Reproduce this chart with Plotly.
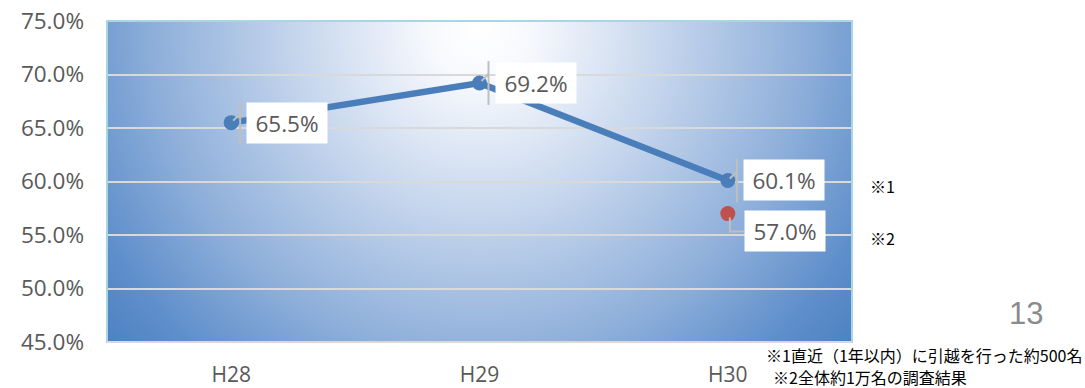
import base64
import plotly.graph_objects as go

# ---- data ----
categories = ["H28", "H29", "H30"]
recent_movers = [65.5, 69.2, 60.1]       # ※1
all_respondents = [None, None, 57.0]     # ※2
y_ticks = [45, 50, 55, 60, 65, 70, 75]
y_tick_labels = [f"{t:.1f}%" for t in y_ticks]
note1 = "※1直近（1年以内）に引越を行った約500名"
note2 = "※2全体約1万名の調査結果"
page_no = "13"

W, H = 1085, 388
ML, MR, MT, MB = 107, 233, 21, 46
PW, PH = W - ML - MR, H - MT - MB


def px(x):
    return (x - ML) / PW


def py(y):
    return 1 - (y - MT) / PH


TXT = "#595959"
BLUE = "#4a7ebb"
RED = "#c0504d"
LEAD = "#bfbfbf"
FS = 22.5

svg = f"""<svg xmlns="http://www.w3.org/2000/svg" width="{PW}" height="{PH}" viewBox="0 0 {PW} {PH}" preserveAspectRatio="none">
<defs><radialGradient id="g" gradientUnits="userSpaceOnUse" cx="{PW*0.5}" cy="10" r="500">
<stop offset="0" stop-color="#ffffff"/>
<stop offset="0.1" stop-color="#f7f9fd"/>
<stop offset="0.35" stop-color="#c9d8ee"/>
<stop offset="0.65" stop-color="#8eafda"/>
<stop offset="0.85" stop-color="#5f8fcb"/>
<stop offset="1" stop-color="#4a7ec0"/>
</radialGradient></defs>
<rect x="0" y="0" width="{PW}" height="{PH}" fill="url(#g)"/>
</svg>"""
src = "data:image/svg+xml;base64," + base64.b64encode(svg.encode()).decode()

fig = go.Figure()
fig.add_trace(go.Scatter(
    x=categories, y=recent_movers, mode="lines+markers",
    line=dict(color=BLUE, width=6.5),
    marker=dict(color=BLUE, size=15),
    hoverinfo="skip", showlegend=False))
fig.add_trace(go.Scatter(
    x=categories, y=all_respondents, mode="markers",
    marker=dict(color=RED, size=15),
    hoverinfo="skip", showlegend=False))

annotations = []
shapes = []
for i, v in enumerate(recent_movers):
    annotations.append(dict(
        x=categories[i], y=v, xref="x", yref="y", text=f"{v:.1f}%",
        showarrow=False, xshift=56, yshift=0, bgcolor="white",
        xanchor="center", yanchor="middle",
        width=78, height=38, borderpad=1,
        font=dict(family="Open Sans", size=FS, color=TXT)))
    shapes.append(dict(type="line", xref="x", yref="y", xsizemode="pixel", ysizemode="pixel",
                       xanchor=i, yanchor=v, x0=9, x1=9, y0=-22, y1=22,
                       line=dict(color=LEAD, width=2)))
    shapes.append(dict(type="line", xref="x", yref="y", xsizemode="pixel", ysizemode="pixel",
                       xanchor=i, yanchor=v, x0=2, x1=9, y0=2, y1=9,
                       line=dict(color=LEAD, width=2)))
for i, v in enumerate(all_respondents):
    if v is None:
        continue
    annotations.append(dict(
        x=categories[i], y=v, xref="x", yref="y", text=f"{v:.1f}%",
        showarrow=False, xshift=57, yshift=-17, bgcolor="white",
        xanchor="center", yanchor="middle",
        width=78, height=38, borderpad=1,
        font=dict(family="Open Sans", size=FS, color=TXT)))
    shapes.append(dict(type="path", xref="x", yref="y", xsizemode="pixel", ysizemode="pixel",
                       xanchor=i, yanchor=v, path="M 2,-4 L 2,-18 L 16,-18",
                       line=dict(color=LEAD, width=2)))

# frame
shapes.append(dict(type="rect", xref="paper", yref="paper", x0=0, x1=1, y0=0, y1=1,
                   line=dict(color="#a9d6e5", width=2), layer="above"))
shapes.append(dict(type="line", xref="paper", yref="paper", x0=0, x1=1, y0=0, y1=0,
                   line=dict(color="#d9d9d9", width=2), layer="above"))


def note(x, y, text, size, color, family, xanchor="center"):
    return dict(x=px(x), y=py(y), xref="paper", yref="paper", text=text, showarrow=False,
                xanchor=xanchor, yanchor="middle",
                font=dict(family=family, size=size, color=color))


annotations += [
    note(882, 186, "※1", 16, "black", "Noto Sans CJK JP"),
    note(882, 238, "※2", 16, "black", "Noto Sans CJK JP"),
    note(1026, 313, page_no, 31, "#8a8a8a", "Liberation Sans"),
    note(764, 355, note1, 16, "black", "Noto Sans CJK JP", "left"),
    note(771, 377, note2, 16, "black", "Noto Sans CJK JP", "left"),
]

fig.update_layout(
    width=W, height=H,
    margin=dict(l=ML, r=MR, t=MT, b=MB, pad=0, autoexpand=False),
    paper_bgcolor="white", plot_bgcolor="rgba(0,0,0,0)",
    images=[dict(source=src, xref="paper", yref="paper", x=0, y=1, sizex=1, sizey=1,
                 xanchor="left", yanchor="top", sizing="stretch", layer="below")],
    shapes=shapes, annotations=annotations,
    xaxis=dict(type="category", range=[-0.5, 2.5], showgrid=False, zeroline=False,
               showline=False, ticks="", ticklabelstandoff=18, automargin=False,
               tickfont=dict(family="Open Sans", size=21, color=TXT)),
    yaxis=dict(range=[45, 75], tickmode="array", tickvals=y_ticks, ticktext=y_tick_labels,
               showgrid=True, gridcolor="#d9d9d9", gridwidth=2, zeroline=False,
               showline=False, ticks="", ticklabelstandoff=22, automargin=False,
               tickfont=dict(family="Open Sans", size=FS, color=TXT)),
)

fig.write_html("out.html")
